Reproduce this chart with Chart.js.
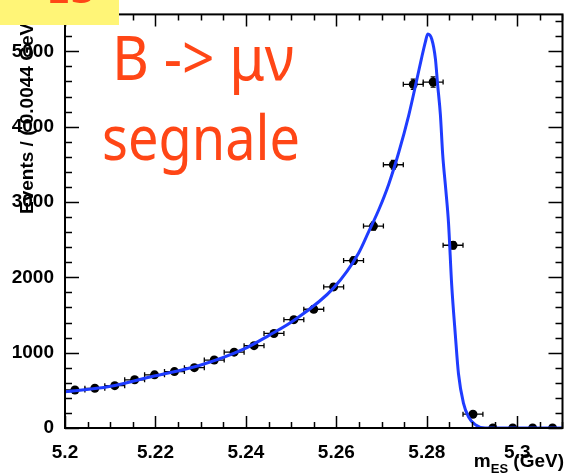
<!DOCTYPE html>
<html>
<head>
<meta charset="utf-8">
<script src="https://cdn.jsdelivr.net/npm/chart.js@4"></script>
<style>
  html, body { margin: 0; padding: 0; background: #fff; }
  #wrap { width: 567px; height: 474px; position: relative; }
</style>
</head>
<body>
<div id="wrap"><canvas id="mesChart"></canvas></div>
<script>
// dati: istogramma m_ES (bin da 0.0044 GeV)
const binCenters = [5.2022, 5.2066, 5.2110, 5.2154, 5.2198, 5.2242, 5.2286, 5.2330, 5.2374, 5.2418,
                    5.2462, 5.2506, 5.2550, 5.2594, 5.2638, 5.2682, 5.2726, 5.2770, 5.2814, 5.2858,
                    5.2902, 5.2946, 5.2990, 5.3034, 5.3078];
const counts = [505, 527, 562, 640, 706, 749, 801, 902, 1007, 1093,
                1255, 1438, 1576, 1873, 2222, 2680, 3494, 4562, 4592, 2426,
                183, 0, 0, 0, 0];
const countErrors = [22, 23, 24, 25, 27, 27, 28, 30, 32, 33,
                     35, 38, 40, 43, 47, 52, 59, 68, 68, 49,
                     14, 0, 0, 0, 0];
const binHalfWidth = 0.0022;

// curva del fit
const curveX = [5.2000, 5.2098, 5.2197, 5.2297, 5.2396, 5.2451, 5.2504, 5.2594, 5.2649, 5.2671,
                5.2694, 5.2716, 5.2738, 5.2760, 5.2777, 5.2788, 5.2797, 5.2802, 5.2811, 5.2819,
                5.2824, 5.2830, 5.2835, 5.2842, 5.2848, 5.2855, 5.2863, 5.2870, 5.2881, 5.2892,
                5.2907, 5.2929, 5.3100];
const curveY = [480, 550, 690, 830, 1050, 1230, 1420, 1860, 2320, 2600,
                2900, 3240, 3660, 4150, 4600, 4900, 5130, 5230, 5160, 4900,
                4550, 4160, 3640, 3160, 2720, 1900, 1240, 720, 330, 150,
                45, 0, 0];

// assi
const xTicks = [5.2, 5.22, 5.24, 5.26, 5.28, 5.3];
const yTicks = [0, 1000, 2000, 3000, 4000, 5000];
const xRange = [5.2, 5.31];
const yRange = [0, 5490];
const xMinorStep = 0.005;
const yMinorStep = 200;

const labelFont = { family: 'Liberation Sans, Arial, sans-serif', size: 19, weight: 'bold' };

// barre d'errore sotto i punti
const errorBars = {
  id: 'errorBars',
  beforeDatasetsDraw(chart) {
    const ctx = chart.ctx;
    const xs = chart.scales.x, ys = chart.scales.y;
    ctx.save();
    ctx.strokeStyle = '#000';
    ctx.lineWidth = 1.3;
    binCenters.forEach((c, i) => {
      const py = ys.getPixelForValue(counts[i]);
      const x1 = xs.getPixelForValue(c - binHalfWidth);
      const x2 = xs.getPixelForValue(c + binHalfWidth);
      const px = xs.getPixelForValue(c);
      ctx.beginPath();
      if (counts[i] > 0) {
        ctx.moveTo(x1, py); ctx.lineTo(x2, py);
        ctx.moveTo(x1, py - 2.5); ctx.lineTo(x1, py + 2.5);
        ctx.moveTo(x2, py - 2.5); ctx.lineTo(x2, py + 2.5);
      }
      if (countErrors[i] > 0) {
        const y1 = ys.getPixelForValue(counts[i] - countErrors[i]);
        const y2 = ys.getPixelForValue(counts[i] + countErrors[i]);
        ctx.moveTo(px, y1); ctx.lineTo(px, y2);
        ctx.moveTo(px - 2.5, y1); ctx.lineTo(px + 2.5, y1);
        ctx.moveTo(px - 2.5, y2); ctx.lineTo(px + 2.5, y2);
      }
      ctx.stroke();
    });
    ctx.restore();
  }
};

// cornice stile ROOT, tacche verso l'interno, titoli e scritte
const rootFrame = {
  id: 'rootFrame',
  afterDraw(chart) {
    const ctx = chart.ctx;
    const a = chart.chartArea;
    const xs = chart.scales.x, ys = chart.scales.y;
    ctx.save();
    ctx.strokeStyle = '#000';
    ctx.lineWidth = 2;
    ctx.strokeRect(a.left, a.top, a.right - a.left, a.bottom - a.top);

    ctx.lineWidth = 1.5;
    ctx.beginPath();
    for (let v = xRange[0]; v <= xRange[1] + 1e-9; v += xMinorStep) {
      const major = xTicks.some(t => Math.abs(t - v) < 1e-6);
      const len = major ? 12 : 6;
      const px = Math.round(xs.getPixelForValue(v)) + 0.5;
      ctx.moveTo(px, a.bottom); ctx.lineTo(px, a.bottom - len);
      ctx.moveTo(px, a.top); ctx.lineTo(px, a.top + len);
    }
    for (let v = yRange[0]; v <= yRange[1] + 1e-9; v += yMinorStep) {
      const major = yTicks.some(t => Math.abs(t - v) < 1e-6);
      const len = major ? 14 : 7;
      const py = Math.round(ys.getPixelForValue(v)) + 0.5;
      ctx.moveTo(a.left, py); ctx.lineTo(a.left + len, py);
      ctx.moveTo(a.right, py); ctx.lineTo(a.right - len, py);
    }
    ctx.stroke();

    // titolo asse y
    ctx.fillStyle = '#000';
    ctx.font = 'bold 19px Liberation Sans, Arial, sans-serif';
    ctx.save();
    ctx.translate(33, 214);
    ctx.rotate(-Math.PI / 2);
    ctx.textAlign = 'left';
    ctx.textBaseline = 'alphabetic';
    ctx.fillText('Events / ( 0.0044 GeV )', 0, 0);
    ctx.restore();

    // titolo asse x: m_ES (GeV)
    const big = 'bold 19px Liberation Sans, Arial, sans-serif';
    const small = 'bold 13px Liberation Sans, Arial, sans-serif';
    ctx.textAlign = 'left';
    ctx.font = big;
    const wM = ctx.measureText('m').width;
    const wG = ctx.measureText(' (GeV)').width;
    ctx.font = small;
    const wES = ctx.measureText('ES').width;
    let x0 = 564 - (wM + wES + wG);
    ctx.font = big; ctx.fillText('m', x0, 467);
    ctx.font = small; ctx.fillText('ES', x0 + wM, 473);
    ctx.font = big; ctx.fillText(' (GeV)', x0 + wM + wES, 467);

    // scritte arancioni
    ctx.fillStyle = '#ff4616';
    ctx.font = '62px Noto Sans, DejaVu Sans, sans-serif';
    ctx.fillText('B -> \u03bc\u03bd', 112, 80, 182);
    ctx.fillText('segnale', 102, 160, 198);

    // riquadro giallo in alto a sinistra
    ctx.fillStyle = '#fff577';
    ctx.fillRect(0, 0, 119, 25);
    ctx.fillStyle = '#ff4616';
    ctx.font = '44px Noto Sans, DejaVu Sans, sans-serif';
    ctx.fillText('ES', 46, 3);
    ctx.restore();
  }
};

const ctx = document.getElementById('mesChart').getContext('2d');
new Chart(ctx, {
  type: 'scatter',
  data: {
    datasets: [
      {
        label: 'fit',
        data: curveX.map((x, i) => ({ x: x, y: curveY[i] })),
        showLine: true,
        borderColor: '#1f3cff',
        borderWidth: 3,
        pointRadius: 0,
        cubicInterpolationMode: 'monotone',
        order: 1
      },
      {
        label: 'dati',
        data: binCenters.map((x, i) => ({ x: x, y: counts[i] })),
        pointRadius: 4.5,
        pointBackgroundColor: '#000',
        pointBorderWidth: 0,
        order: 2
      }
    ]
  },
  options: {
    responsive: true,
    maintainAspectRatio: false,
    animation: false,
    devicePixelRatio: 1,
    layout: { padding: { top: 8, right: 4, left: 0, bottom: 0 } },
    plugins: { legend: { display: false }, tooltip: { enabled: false } },
    scales: {
      x: {
        type: 'linear',
        min: xRange[0],
        max: xRange[1],
        afterBuildTicks: s => { s.ticks = xTicks.map(v => ({ value: v })); },
        afterFit: s => { s.height = 46; },
        grid: { display: false },
        border: { display: false },
        ticks: {
          color: '#000',
          font: labelFont,
          padding: 5,
          maxRotation: 0,
          callback: v => String(Math.round(v * 100) / 100)
        }
      },
      y: {
        type: 'linear',
        min: yRange[0],
        max: yRange[1],
        afterBuildTicks: s => { s.ticks = yTicks.map(v => ({ value: v })); },
        afterFit: s => { s.width = 65; },
        grid: { display: false },
        border: { display: false },
        ticks: { color: '#000', font: labelFont, padding: 3, callback: v => String(v) }
      }
    }
  },
  plugins: [errorBars, rootFrame]
});
</script>
</body>
</html>
